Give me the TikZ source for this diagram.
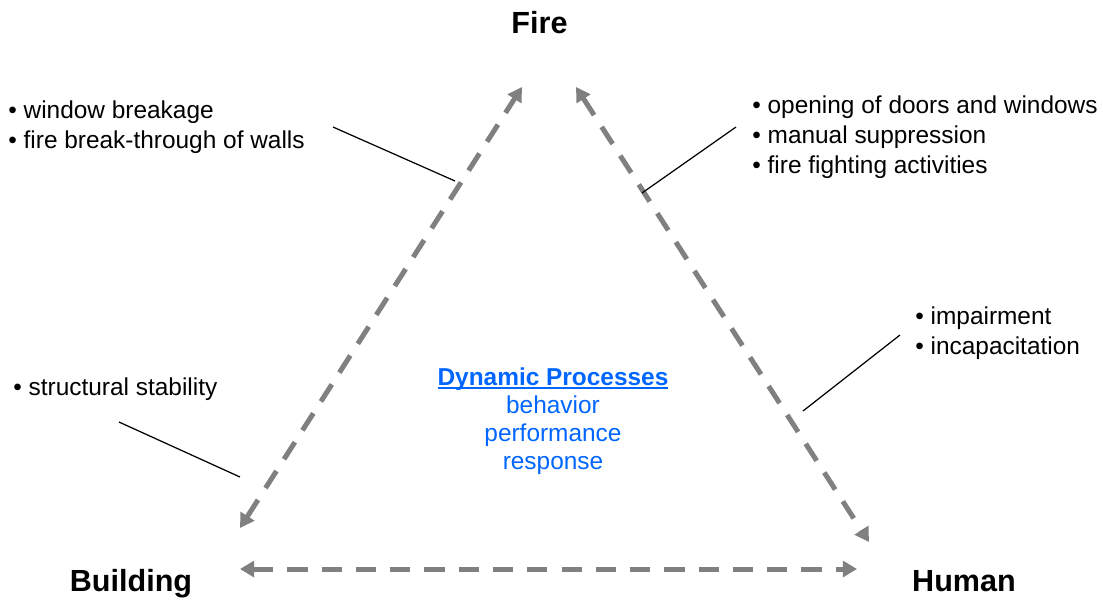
\documentclass[tikz,border=0pt]{standalone}
\usepackage{fontspec}
\setmainfont{Liberation Sans}
\usetikzlibrary{arrows.meta}
\definecolor{arrowgray}{RGB}{128,128,128}
\definecolor{dynblue}{RGB}{0,102,255}
\newcommand{\myul}[1]{\setbox0\hbox{#1}\rlap{\rule[-2.2pt]{\wd0}{1.1pt}}\box0}
\tikzset{
  corner/.style={font=\fontsize{17.4}{20}\selectfont\bfseries, inner sep=0pt, anchor=base},
  blist/.style={font=\fontsize{13.9}{17.07}\selectfont, align=left, inner sep=0pt, anchor=base west},
  dynlist/.style={font=\fontsize{13.9}{15.9}\selectfont, align=center, inner sep=0pt, anchor=base, text=dynblue},
  relarrow/.style={draw=arrowgray, line width=2.85pt, dash pattern=on 11.5pt off 8pt,
     {Triangle[length=8pt,width=9pt]}-{Triangle[length=8pt,width=9pt]}},
  leader/.style={draw=black, line width=0.7pt}
}
\begin{document}
\begin{tikzpicture}[x=0.02cm,y=-0.02cm]
\useasboundingbox (0,0) rectangle (1103,600);
% corner labels
\node[corner] (fire) at (539.5,33) {Fire};
\node[corner] (building) at (131,591) {Building};
\node[corner] (human) at (964,591) {Human};
% arrow end points
\coordinate (fireL) at (522,87);
\coordinate (fireR) at (576,87);
\coordinate (bldT) at (240,528);
\coordinate (humT) at (869,542);
\coordinate (bldB) at (240,569);
\coordinate (humB) at (857,569);
\draw[relarrow] (bldT) -- (fireL);
\draw[relarrow] (fireR) -- (humT);
\draw[relarrow] (bldB) -- (humB);
% bullet lists (anchor = baseline of last line)
\node[blist] (lt) at (8,148) {\textbullet{} window breakage\\\textbullet{} fire break-through of walls};
\node[blist] (rt) at (752,173) {\textbullet{} opening of doors and windows\\\textbullet{} manual suppression\\\textbullet{} fire fighting activities};
\node[blist] (rm) at (915,354) {\textbullet{} impairment\\\textbullet{} incapacitation};
\node[blist] (lm) at (13,395) {\textbullet{} structural stability};
% centre text
\node[dynlist] (dyn) at (553,469) {\myul{\textbf{Dynamic Processes}}\\behavior\\performance\\response};
% leader lines
\coordinate (l1a) at (333,127); \coordinate (l1b) at (455,181);
\coordinate (l2a) at (736,127); \coordinate (l2b) at (642,193);
\coordinate (l3a) at (900,335); \coordinate (l3b) at (803,411);
\coordinate (l4a) at (119,422); \coordinate (l4b) at (240,477);
\draw[leader] (l1a) -- (l1b);
\draw[leader] (l2a) -- (l2b);
\draw[leader] (l3a) -- (l3b);
\draw[leader] (l4a) -- (l4b);
\end{tikzpicture}
\end{document}
